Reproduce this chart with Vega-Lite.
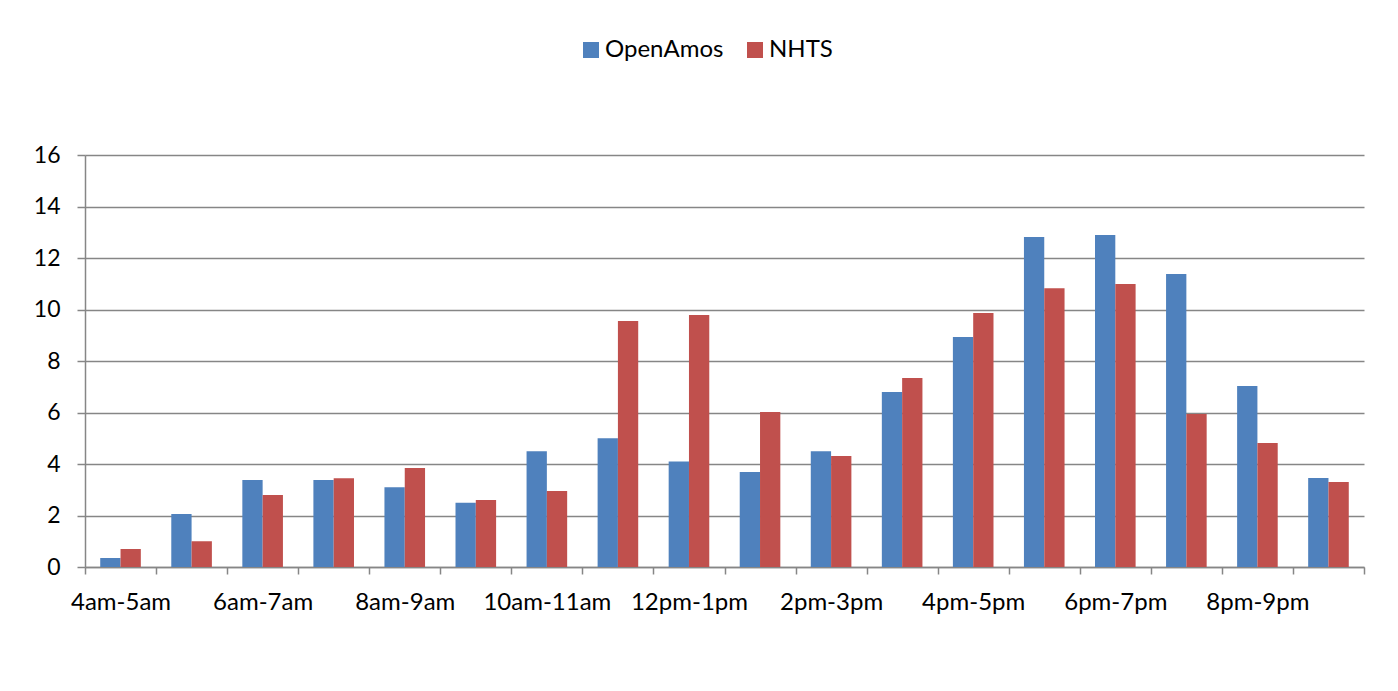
{
  "$schema": "https://vega.github.io/schema/vega-lite/v6.json",
  "width": 1279,
  "height": 412,
  "autosize": {"type": "none"},
  "padding": {"left": 85, "top": 155, "right": 34, "bottom": 124},
  "background": "white",
  "data": {
    "values": [
      {"slot": "4am-5am", "source": "OpenAmos", "value": 0.35},
      {"slot": "4am-5am", "source": "NHTS", "value": 0.7},
      {"slot": "5am-6am", "source": "OpenAmos", "value": 2.06},
      {"slot": "5am-6am", "source": "NHTS", "value": 1.0},
      {"slot": "6am-7am", "source": "OpenAmos", "value": 3.38},
      {"slot": "6am-7am", "source": "NHTS", "value": 2.8},
      {"slot": "7am-8am", "source": "OpenAmos", "value": 3.38},
      {"slot": "7am-8am", "source": "NHTS", "value": 3.45},
      {"slot": "8am-9am", "source": "OpenAmos", "value": 3.1},
      {"slot": "8am-9am", "source": "NHTS", "value": 3.84},
      {"slot": "9am-10am", "source": "OpenAmos", "value": 2.5},
      {"slot": "9am-10am", "source": "NHTS", "value": 2.6},
      {"slot": "10am-11am", "source": "OpenAmos", "value": 4.5},
      {"slot": "10am-11am", "source": "NHTS", "value": 2.95},
      {"slot": "11am-12pm", "source": "OpenAmos", "value": 5.0},
      {"slot": "11am-12pm", "source": "NHTS", "value": 9.55},
      {"slot": "12pm-1pm", "source": "OpenAmos", "value": 4.1},
      {"slot": "12pm-1pm", "source": "NHTS", "value": 9.79},
      {"slot": "1pm-2pm", "source": "OpenAmos", "value": 3.69},
      {"slot": "1pm-2pm", "source": "NHTS", "value": 6.02},
      {"slot": "2pm-3pm", "source": "OpenAmos", "value": 4.5},
      {"slot": "2pm-3pm", "source": "NHTS", "value": 4.31},
      {"slot": "3pm-4pm", "source": "OpenAmos", "value": 6.8},
      {"slot": "3pm-4pm", "source": "NHTS", "value": 7.34},
      {"slot": "4pm-5pm", "source": "OpenAmos", "value": 8.93},
      {"slot": "4pm-5pm", "source": "NHTS", "value": 9.86},
      {"slot": "5pm-6pm", "source": "OpenAmos", "value": 12.82},
      {"slot": "5pm-6pm", "source": "NHTS", "value": 10.83},
      {"slot": "6pm-7pm", "source": "OpenAmos", "value": 12.89},
      {"slot": "6pm-7pm", "source": "NHTS", "value": 10.99},
      {"slot": "7pm-8pm", "source": "OpenAmos", "value": 11.38},
      {"slot": "7pm-8pm", "source": "NHTS", "value": 5.94},
      {"slot": "8pm-9pm", "source": "OpenAmos", "value": 7.03},
      {"slot": "8pm-9pm", "source": "NHTS", "value": 4.82},
      {"slot": "9pm-10pm", "source": "OpenAmos", "value": 3.46},
      {"slot": "9pm-10pm", "source": "NHTS", "value": 3.3}
    ]
  },
  "mark": {"type": "bar"},
  "encoding": {
    "x": {
      "field": "slot",
      "type": "nominal",
      "sort": null,
      "scale": {"paddingInner": 0, "paddingOuter": 0},
      "axis": {
        "title": null,
        "labelAngle": 0,
        "tickBand": "extent",
        "labelExpr": "indexof(['4am-5am','6am-7am','8am-9am','10am-11am','12pm-1pm','2pm-3pm','4pm-5pm','6pm-7pm','8pm-9pm'], datum.value) >= 0 ? datum.label : ''",
        "labelOverlap": false,
        "domainColor": "#868686",
        "domainWidth": 1.5,
        "tickColor": "#868686",
        "tickWidth": 1.5,
        "tickSize": 7,
        "labelPadding": 16,
        "labelFont": "Lato",
        "labelFontSize": 24,
        "labelColor": "black",
        "grid": false
      }
    },
    "xOffset": {
      "field": "source",
      "type": "nominal",
      "sort": ["OpenAmos", "NHTS"],
      "scale": {"paddingInner": 0, "paddingOuter": 0.75}
    },
    "y": {
      "field": "value",
      "type": "quantitative",
      "scale": {"domain": [0, 16], "nice": false},
      "axis": {
        "title": null,
        "values": [0, 2, 4, 6, 8, 10, 12, 14, 16],
        "grid": true,
        "gridColor": "#868686",
        "gridWidth": 1.5,
        "domainColor": "#868686",
        "domainWidth": 1.5,
        "tickColor": "#868686",
        "tickWidth": 1.5,
        "tickSize": 8,
        "labelPadding": 17,
        "labelFont": "Lato",
        "labelFontSize": 23,
        "labelColor": "black"
      }
    },
    "color": {
      "field": "source",
      "type": "nominal",
      "scale": {"domain": ["OpenAmos", "NHTS"], "range": ["#4F81BD", "#C0504D"]},
      "legend": {
        "title": null,
        "orient": "none",
        "direction": "horizontal",
        "legendX": 494,
        "legendY": -117,
        "padding": 0,
        "symbolType": "square",
        "symbolSize": 256,
        "symbolStrokeWidth": 0,
        "symbolOpacity": 1,
        "labelFont": "Lato",
        "labelFontSize": 24,
        "labelColor": "black",
        "labelOffset": 2,
        "columnPadding": 19
      }
    }
  },
  "config": {
    "view": {"stroke": null},
    "axis": {"labelFontWeight": "normal"}
  }
}
